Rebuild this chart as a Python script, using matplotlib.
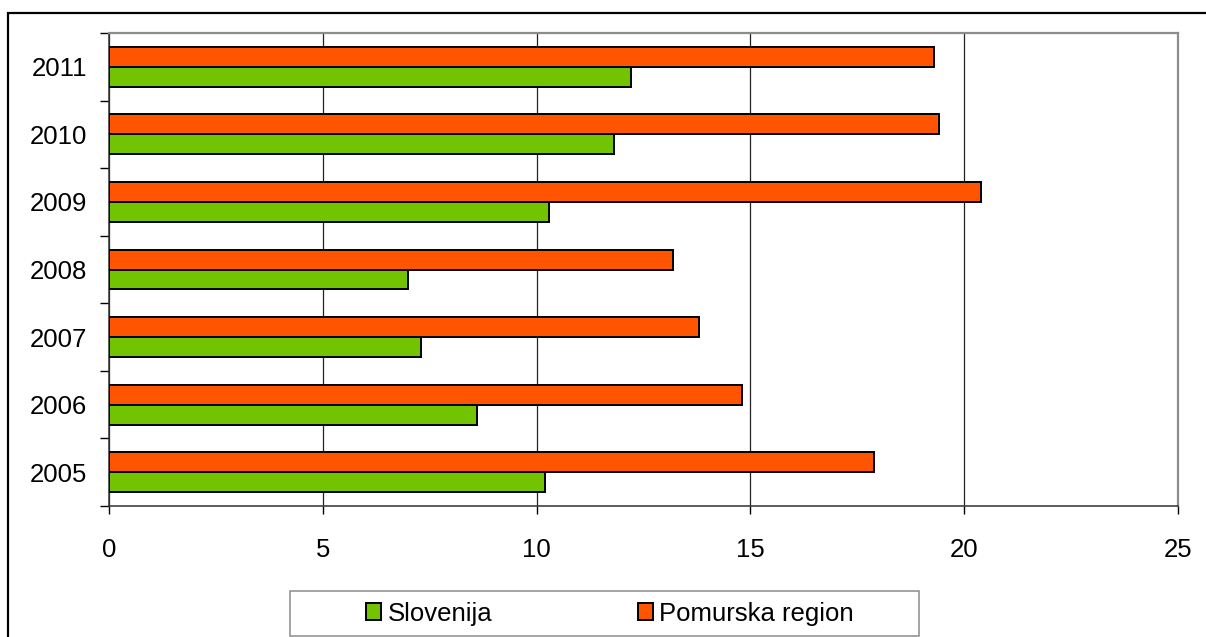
import numpy as np
import matplotlib.pyplot as plt
from matplotlib.patches import Rectangle, Patch

plt.rcParams['font.family'] = ['Liberation Sans', 'DejaVu Sans']

years = ['2005', '2006', '2007', '2008', '2009', '2010', '2011']
slovenija = [10.2, 8.6, 7.3, 7.0, 10.3, 11.8, 12.2]
pomurska = [17.9, 14.8, 13.8, 13.2, 20.4, 19.4, 19.3]
series_names = ['Slovenija', 'Pomurska region']

GREEN = '#73c400'
ORANGE = '#ff5500'

W, H = 1206, 637
fig = plt.figure(figsize=(W / 100, H / 100), dpi=100)

# plot area in pixel coordinates
left, right, top, bottom = 109, 1178, 33, 506
ax = fig.add_axes([left / W, (H - bottom) / H, (right - left) / W, (bottom - top) / H])

y = np.arange(len(years))
h = 0.295
ax.barh(y + h / 2, pomurska, height=h, color=ORANGE, edgecolor='black', linewidth=1.4, zorder=3)
ax.barh(y - h / 2, slovenija, height=h, color=GREEN, edgecolor='black', linewidth=1.4, zorder=3)

ax.set_xlim(0, 25)
ax.set_ylim(-0.5, len(years) - 0.5)

ax.set_xticks(np.arange(0, 26, 5))
ax.set_xticklabels([str(v) for v in range(0, 26, 5)])
ax.set_yticks(y)
ax.set_yticklabels(years)
ax.set_yticks(np.arange(-0.5, len(years), 1), minor=True)

ax.tick_params(axis='x', direction='out', length=6, width=1, color='black',
               pad=17, labelsize=18.5)
ax.tick_params(axis='y', which='major', length=0, pad=16, labelsize=18.5)
ax.tick_params(axis='y', which='minor', direction='out', length=6.5, width=1, color='black')

ax.grid(axis='x', color='#222222', linewidth=0.9, zorder=0)
ax.set_axisbelow(True)

for side in ['top', 'right']:
    ax.spines[side].set_color('#8c8c8c')
    ax.spines[side].set_linewidth(1.6)
for side in ['left', 'bottom']:
    ax.spines[side].set_color('#303030')
    ax.spines[side].set_linewidth(1.1)

# outer chart frame (runs off the right and bottom edges)
fig.patches.append(Rectangle((8 / W, -0.1), 1.2, (H - 13) / H + 0.1,
                             transform=fig.transFigure, fill=False,
                             edgecolor='black', linewidth=1.6, zorder=10))

# legend with its own box
lx0, lx1, ly0, ly1 = 290, 919, 591, 636
fig.patches.append(Rectangle((lx0 / W, (H - ly1) / H), (lx1 - lx0) / W, (ly1 - ly0) / H,
                             transform=fig.transFigure, facecolor='white',
                             edgecolor='#8c8c8c', linewidth=1.1, zorder=5))
handles = [Patch(facecolor=GREEN, edgecolor='black', linewidth=1.4),
           Patch(facecolor=ORANGE, edgecolor='black', linewidth=1.4)]
leg = fig.legend(handles, series_names, loc='center',
                 bbox_to_anchor=(610 / W, (H - (ly0 + ly1) / 2) / H),
                 ncol=2, frameon=False, fontsize=18.5,
                 handlelength=0.6, handleheight=0.6, handletextpad=0.25,
                 columnspacing=5.65)
leg.set_zorder(11)

fig.savefig('out.png', dpi=100)
